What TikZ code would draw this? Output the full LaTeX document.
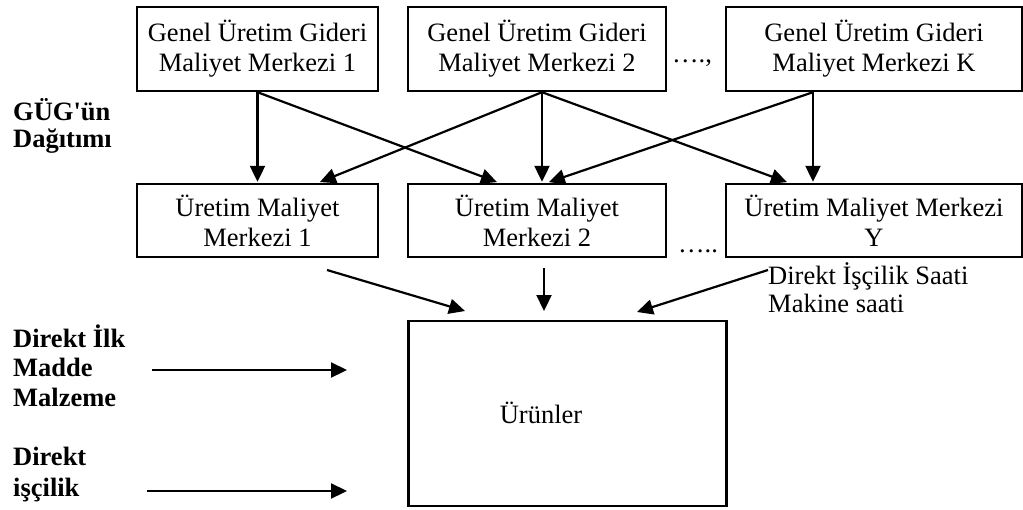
\documentclass[tikz,border=0pt]{standalone}
\usepackage{fontspec}
\setmainfont{Liberation Serif}[Ligatures=TeXOff]
\usetikzlibrary{arrows.meta,calc}
\begin{document}
\begin{tikzpicture}[x=1pt,y=-1pt,
  every node/.style={font=\fontsize{26.5}{30}\selectfont, inner sep=0pt},
  box/.style={draw, line width=2.4pt, align=center},
  topbox/.style={box, minimum height=84pt},
  midbox/.style={box, minimum height=73pt},
  side/.style={font=\fontsize{26.5}{29.5}\selectfont\bfseries, align=left, anchor=base west},
  note/.style={font=\fontsize{26.5}{28}\selectfont, align=left, anchor=base west},
  arr/.style={line width=2.2pt, -{Triangle[length=16pt,width=15pt]}},
]
\useasboundingbox (0,0) rectangle (1023,509);

% overhead cost centres
\node[topbox, minimum width=241pt] (A1) at (257.5,49) {Genel Üretim Gideri\\Maliyet Merkezi 1};
\node[topbox, minimum width=258pt] (A2) at (537,49) {Genel Üretim Gideri\\Maliyet Merkezi 2};
\node[topbox, minimum width=296pt] (AK) at (874,49) {Genel Üretim Gideri\\Maliyet Merkezi K};
\node[anchor=base west] (dots1) at (672,62) {….,};

% production cost centres
\node[midbox, minimum width=241pt] (B1) at (257.5,220.5) {Üretim Maliyet\\Merkezi 1};
\node[midbox, minimum width=258pt] (B2) at (537,220.5) {Üretim Maliyet\\Merkezi 2};
\node[midbox, minimum width=296pt] (BY) at (874,220.5) {Üretim Maliyet Merkezi\\Y};
\node[anchor=base west] (dots2) at (678,252) {…..};

% products
\node[box, minimum width=318pt, minimum height=185pt] (U) at (567.5,413.5) {};
\node (Ulabel) at (541,413) {Ürünler};

% side labels (anchored at the baseline of their last line)
\node[side, font=\fontsize{26.5}{27}\selectfont\bfseries] (gug) at (13,147) {GÜG'ün\\Dağıtımı};
\node[side] (dilk) at (13,406) {Direkt İlk\\Madde\\Malzeme};
\node[side, font=\fontsize{26.5}{31}\selectfont\bfseries] (dis) at (13,496) {Direkt\\işçilik};
\node[note] (saat) at (768,312) {Direkt İşçilik Saati\\Makine saati};

% distribution of overhead
\draw[arr, shorten >=1pt] (A1.south) -- (B1.north);
\draw[arr, shorten >=2pt] (A1.south) -- ([xshift=92pt]B2.north west);
\draw[arr, shorten >=2pt] ([xshift=5pt]A2.south) -- ([xshift=60.5pt]B1.north);
\draw[arr, shorten >=1pt] ([xshift=5pt]A2.south) -- ([xshift=5pt]B2.north);
\draw[arr, shorten >=2pt] ([xshift=5pt]A2.south) -- ([xshift=64pt]BY.north west);
\draw[arr, shorten >=2pt] ([xshift=-61pt]AK.south) -- ([xshift=10pt]B2.north);
\draw[arr, shorten >=1pt] ([xshift=-61pt]AK.south) -- ([xshift=-61pt]BY.north);

% flows into products
\coordinate (s1) at (327,270);
\coordinate (t1) at (465,311);
\coordinate (s2) at (544,268);
\coordinate (t2) at (544,311);
\coordinate (s3) at (768,270);
\coordinate (t3) at (637,312);
\draw[arr] (s1) -- (t1);
\draw[arr] (s2) -- (t2);
\draw[arr] (s3) -- (t3);

\coordinate (m1) at (152,370);
\coordinate (m2) at (347,370);
\coordinate (l1) at (147,491);
\coordinate (l2) at (347,491);
\draw[arr] (m1) -- (m2);
\draw[arr] (l1) -- (l2);
\end{tikzpicture}
\end{document}
